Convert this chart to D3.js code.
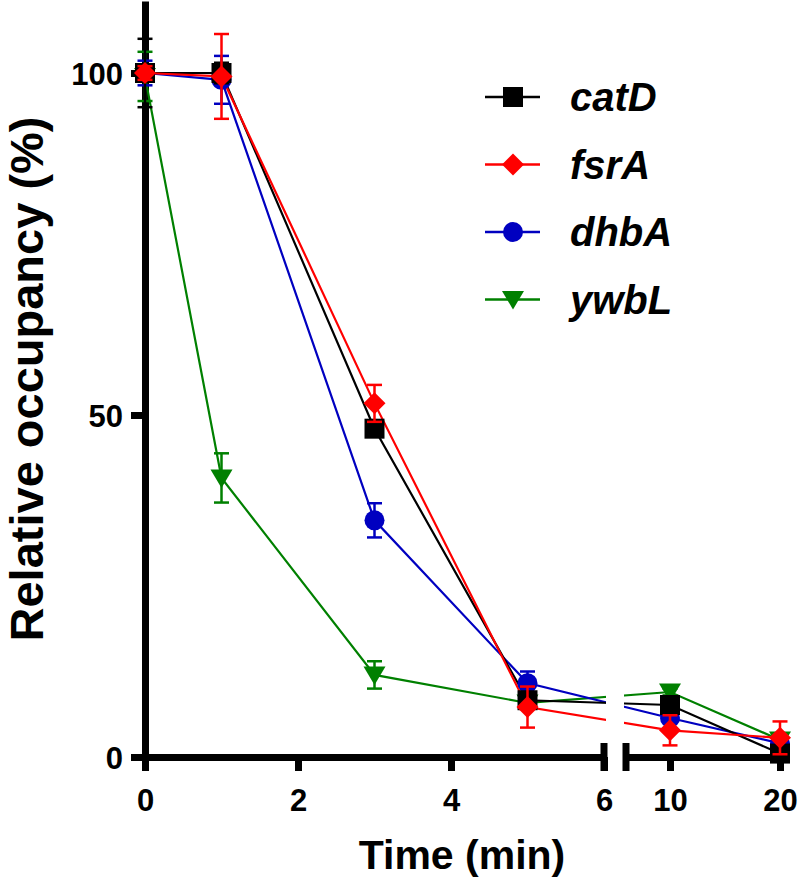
<!DOCTYPE html>
<html>
<head>
<meta charset="utf-8">
<script src="https://cdn.jsdelivr.net/npm/d3@7"></script>
<style>
  html, body { margin: 0; padding: 0; background: #fff; }
  svg { display: block; font-family: "Liberation Sans", Arial, sans-serif; }
</style>
</head>
<body>
<svg id="chart" width="800" height="881"></svg>
<script>
// ---- data ----
const times = [0, 1, 3, 5, 10, 20];
const seriesNames = ["catD", "fsrA", "dhbA", "ywbL"];
const catD = [100, 100, 48.0, 8.3, 7.6, 0.5];
const catDErr = [5.0, 1.5, 1.0, 1.0, 1.0, 1.0];
const fsrA = [100, 99.5, 51.7, 7.3, 3.9, 2.8];
const fsrAErr = [1.0, 6.2, 2.7, 3.0, 2.2, 2.4];
const dhbA = [100, 99.0, 34.6, 10.8, 5.7, 2.0];
const dhbAErr = [1.8, 3.5, 2.5, 1.7, 1.5, 1.0];
const ywbL = [99.5, 40.8, 12.0, 7.9, 9.5, 2.5];
const ywbLErr = [3.6, 3.6, 2.0, 0.5, 0.5, 0.5];
const xTicks1 = [0, 2, 4, 6];
const xTicks2 = [10, 20];
const yTicks = [0, 50, 100];

const colors = { catD: "#000000", fsrA: "#ff0000", dhbA: "#0000c0", ywbL: "#008000" };
const shapes = { catD: "square", fsrA: "diamond", dhbA: "circle", ywbL: "triangle" };
const series = [
  { name: "catD", values: catD, err: catDErr },
  { name: "fsrA", values: fsrA, err: fsrAErr },
  { name: "dhbA", values: dhbA, err: dhbAErr },
  { name: "ywbL", values: ywbL, err: ywbLErr }
];

// ---- scales ----
const y0 = 757;
const y = d3.scaleLinear().domain([0, 110]).range([y0, y0 - 6.84 * 110]);
const x1 = d3.scaleLinear().domain([0, 6]).range([145, 604]);
const x2 = d3.scaleLinear().domain([6, 20]).range([626, 780]);
const x = t => (t <= 6 ? x1(t) : x2(t));

const svg = d3.select("#chart");

// clip to hide the axis-break gap
const defs = svg.append("defs");
const clip = defs.append("clipPath").attr("id", "gapclip");
clip.append("rect").attr("x", 0).attr("y", 0).attr("width", 606).attr("height", 881);
clip.append("rect").attr("x", 624).attr("y", 0).attr("width", 176).attr("height", 881);

function markerPath(shape, s) {
  if (shape === "square") return `M${-s},${-s}H${s}V${s}H${-s}Z`;
  if (shape === "diamond") { const d = s * 1.1; return `M0,${-d}L${d},0L0,${d}L${-d},0Z`; }
  if (shape === "triangle") { const w = s * 1.1; return `M${-w},${-s * 0.85}L${w},${-s * 0.85}L0,${s * 1.0}Z`; }
  return d3.symbol(d3.symbolCircle, Math.PI * s * s)();
}

// ---- axes ----
const tickFont = "31px";
const axisW = 7;
const fmt = d3.format("d");

function styleAxis(g) {
  g.selectAll("path.domain").attr("stroke", "#000").attr("stroke-width", axisW).attr("stroke-linecap", "square");
  g.selectAll(".tick line").attr("stroke", "#000").attr("stroke-width", axisW);
  g.selectAll(".tick text").attr("fill", "#000").style("font-size", tickFont).style("font-weight", "bold")
    .style("font-family", '"Liberation Sans", Arial, sans-serif');
}

const yAxisG = svg.append("g").attr("transform", `translate(${x1(0)},0)`)
  .call(d3.axisLeft(y).tickValues(yTicks).tickFormat(fmt).tickSize(14).tickSizeOuter(0).tickPadding(8));
styleAxis(yAxisG);
yAxisG.selectAll(".tick text").attr("dy", "0.36em");

const xAxis1 = svg.append("g").attr("transform", `translate(0,${y0})`)
  .call(d3.axisBottom(x1).tickValues(xTicks1).tickFormat(fmt).tickSize(14).tickSizeOuter(0).tickPadding(18));
styleAxis(xAxis1);
xAxis1.select("path.domain").attr("stroke-linecap", "butt");

const xAxis2 = svg.append("g").attr("transform", `translate(0,${y0})`)
  .call(d3.axisBottom(x2).tickValues(xTicks2).tickFormat(fmt).tickSize(14).tickSizeOuter(0).tickPadding(18));
styleAxis(xAxis2);
xAxis2.select("path.domain").attr("stroke-linecap", "butt");

// break markers
[x1(6), x2(6)].forEach(bx => {
  svg.append("line").attr("x1", bx).attr("x2", bx).attr("y1", y0 - 14).attr("y2", y0 + 14)
    .attr("stroke", "#000").attr("stroke-width", axisW);
});
svg.append("line").attr("x1", x2(20)).attr("x2", x2(20) + 3).attr("y1", y0).attr("y2", y0)
  .attr("stroke", "#000").attr("stroke-width", axisW);

// axis titles
svg.append("text").attr("x", 462).attr("y", 869).attr("text-anchor", "middle")
  .style("font-size", "41px").style("font-weight", "bold").text("Time (min)");
svg.append("text").attr("transform", "translate(43,379) rotate(-90)").attr("text-anchor", "middle")
  .style("font-size", "47px").style("font-weight", "bold").text("Relative occupancy (%)");

// ---- data marks ----
const plot = svg.append("g");
const line = d3.line().x((d, i) => x(times[i])).y(d => y(d));
const drawOrder = ["ywbL", "dhbA", "catD", "fsrA"];

drawOrder.forEach(name => {
  const s = series.find(d => d.name === name);
  plot.append("path").datum(s.values).attr("d", line).attr("fill", "none")
    .attr("stroke", colors[name]).attr("stroke-width", 2.2).attr("clip-path", "url(#gapclip)");
});

drawOrder.forEach(name => {
  const s = series.find(d => d.name === name);
  const g = plot.append("g");
  s.values.forEach((v, i) => {
    const cx = x(times[i]);
    const lo = y(v - s.err[i]), hi = y(v + s.err[i]);
    g.append("line").attr("x1", cx).attr("x2", cx).attr("y1", lo).attr("y2", hi)
      .attr("stroke", colors[name]).attr("stroke-width", 2.5);
    [lo, hi].forEach(yy => g.append("line").attr("x1", cx - 7.5).attr("x2", cx + 7.5).attr("y1", yy).attr("y2", yy)
      .attr("stroke", colors[name]).attr("stroke-width", 2.5));
  });
  s.values.forEach((v, i) => {
    g.append("path").attr("transform", `translate(${x(times[i])},${y(v)})`)
      .attr("d", markerPath(shapes[name], 10)).attr("fill", colors[name]);
  });
});

// ---- legend ----
const legend = svg.append("g");
seriesNames.forEach((name, i) => {
  const ly = 97 + i * 67.5;
  legend.append("line").attr("x1", 485).attr("x2", 540).attr("y1", ly).attr("y2", ly)
    .attr("stroke", colors[name]).attr("stroke-width", 2.5);
  legend.append("path").attr("transform", `translate(513,${ly})`).attr("d", markerPath(shapes[name], 10))
    .attr("fill", colors[name]);
  legend.append("text").attr("x", 570).attr("y", ly + 14)
    .style("font-size", "40px").style("font-weight", "bold").style("font-style", "italic").text(name);
});
</script>
</body>
</html>
